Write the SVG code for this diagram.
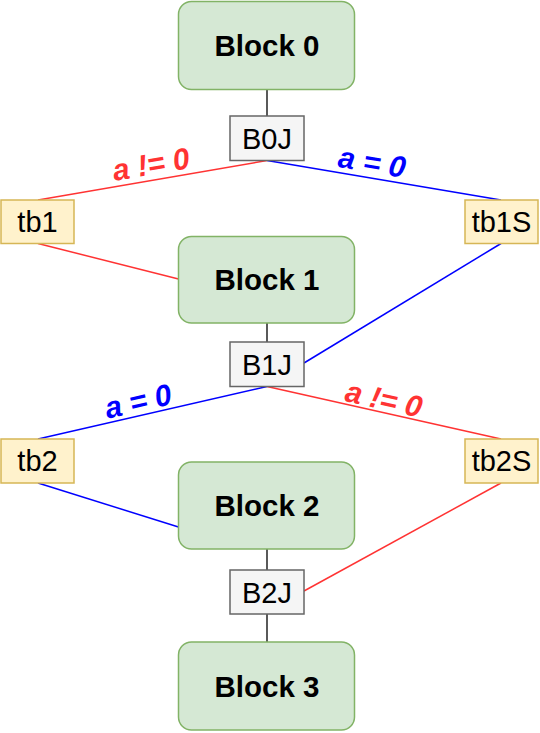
<svg xmlns="http://www.w3.org/2000/svg" width="540" height="733" viewBox="0 0 540 733">
<style>
.blk{fill:#d5e8d4;stroke:#82b366;stroke-width:1.5}
.tb{fill:#fff2cc;stroke:#d6b656;stroke-width:1.5}
.jn{fill:#f5f5f5;stroke:#666666;stroke-width:1.5}
.bt{font-family:"Liberation Sans",Arial,sans-serif;font-size:29.5px;font-weight:bold;fill:#000;text-anchor:middle}
.nt{font-family:"Liberation Sans",Arial,sans-serif;font-size:29px;fill:#000;text-anchor:middle}
.lb{font-family:"Liberation Sans",Arial,sans-serif;font-size:30px;font-weight:bold;font-style:italic;text-anchor:middle}
.k{stroke:#000;stroke-width:1.3;fill:none}
.r{stroke:#ff3333;stroke-width:1.5;fill:none}
.b{stroke:#0000ff;stroke-width:1.5;fill:none}
</style>
<g id="connectors">
<line class="k" x1="267" y1="89.5" x2="267" y2="116"/>
<line class="k" x1="267" y1="323" x2="267" y2="342"/>
<line class="k" x1="267" y1="549" x2="267" y2="570"/>
<line class="k" x1="267" y1="614" x2="267" y2="642"/>
<line class="r" x1="267" y1="160.5" x2="38" y2="200"/>
<line class="b" x1="267" y1="160.5" x2="501" y2="200"/>
<line class="r" x1="38" y1="243.5" x2="178.5" y2="279"/>
<line class="b" x1="501" y1="243.5" x2="304" y2="363"/>
<line class="b" x1="267" y1="386.5" x2="38" y2="439"/>
<line class="r" x1="267" y1="386.5" x2="501" y2="439"/>
<line class="b" x1="38" y1="483" x2="178.5" y2="527"/>
<line class="r" x1="501" y1="483" x2="304" y2="591"/>
<text class="lb" fill="#ff3333" transform="translate(151,164) rotate(-9.7)" y="10.5">a != 0</text>
<text class="lb" fill="#0000ff" transform="translate(372,162) rotate(9.5)" y="10.5">a = 0</text>
<text class="lb" fill="#0000ff" transform="translate(138,401) rotate(-12.8)" y="10.5">a = 0</text>
<text class="lb" fill="#ff3333" transform="translate(384,399) rotate(12.5)" y="10.5">a != 0</text>
</g>
<g id="block0"><rect class="blk" x="178.5" y="1.5" width="176" height="88" rx="13"/><text class="bt" x="267" y="56">Block 0</text></g>
<g id="b0j"><rect class="jn" x="230" y="116" width="74" height="44.5"/><text class="nt" x="267" y="148.5">B0J</text></g>
<g id="tb1"><rect class="tb" x="1" y="200" width="73" height="43.5"/><text class="nt" x="37.5" y="232">tb1</text></g>
<g id="tb1s"><rect class="tb" x="465" y="200" width="73" height="43.5"/><text class="nt" x="501.5" y="232">tb1S</text></g>
<g id="block1"><rect class="blk" x="178.5" y="236.5" width="176" height="86.5" rx="13"/><text class="bt" x="267" y="290">Block 1</text></g>
<g id="b1j"><rect class="jn" x="230" y="342" width="74" height="44.5"/><text class="nt" x="267" y="374.5">B1J</text></g>
<g id="tb2"><rect class="tb" x="1" y="439" width="73" height="44"/><text class="nt" x="37.5" y="471">tb2</text></g>
<g id="tb2s"><rect class="tb" x="465" y="439" width="73" height="44"/><text class="nt" x="501.5" y="471">tb2S</text></g>
<g id="block2"><rect class="blk" x="178.5" y="462" width="176" height="87" rx="13"/><text class="bt" x="267" y="516">Block 2</text></g>
<g id="b2j"><rect class="jn" x="230" y="570" width="74" height="44"/><text class="nt" x="267" y="602.5">B2J</text></g>
<g id="block3"><rect class="blk" x="178.5" y="642" width="176" height="88" rx="13"/><text class="bt" x="267" y="696.5">Block 3</text></g>
</svg>
